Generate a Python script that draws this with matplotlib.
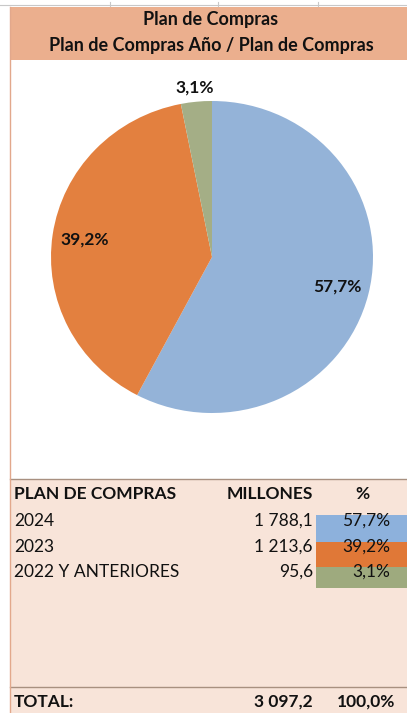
import matplotlib

matplotlib.use('Agg')
import matplotlib.pyplot as plt
import numpy as np

plt.rcParams['font.family'] = ['Lato', 'DejaVu Sans']

title_1 = 'Plan de Compras'
title_2 = 'Plan de Compras Año / Plan de Compras'
categorias = ['2024', '2023', '2022 Y ANTERIORES']
millones = [1788.1, 1213.6, 95.6]
porcentajes = [57.7, 39.2, 3.1]
total_millones = 3097.2
total_pct = 100.0
colores_pie = ['#94B3D8', '#E3803F', '#A4AE86']
colores_tabla = ['#8DB1DC', '#E07837', '#9EAA7E']
label_radio = [0.80, 0.80, 1.09]


def fmt_num(x):
    s = '{:,.1f}'.format(x)
    return s.replace(',', ' ').replace('.', ',')


def fmt_pct(x):
    return '{:.1f}%'.format(x).replace('.', ',')


W, H = 407, 713
fig = plt.figure(figsize=(W / 100, H / 100), dpi=100)
fig.patch.set_facecolor('white')

# background layer in pixel coordinates
bg = fig.add_axes([0, 0, 1, 1])
bg.set_xlim(0, W)
bg.set_ylim(H, 0)
bg.axis('off')

# top spreadsheet line
bg.plot([0, W], [5, 5], color='#C8C8C8', lw=0.8)
for x in [110, 218, 318]:
    bg.plot([x, x], [2, 6], color='#C8C8C8', lw=0.8)

# title band
bg.add_patch(plt.Rectangle((10, 7), W - 10, 53, facecolor='#EBAF8E', edgecolor='none'))
bg.text(211, 20, title_1, ha='center', va='center', fontsize=13, fontweight='bold', color='#111111')
bg.text(211, 45, title_2, ha='center', va='center', fontsize=13, fontweight='bold', color='#111111')

# table area
bg.add_patch(plt.Rectangle((10, 479), W - 10, H - 479, facecolor='#F8E4D9', edgecolor='none'))
bg.plot([10, W], [479, 479], color='#A89080', lw=1.0)
bg.plot([10, W], [687, 687], color='#A89080', lw=1.0)
bg.plot([10, 10], [7, H], color='#E2A88C', lw=1.0)

fs = 12.5
bg.text(14, 494, 'PLAN DE COMPRAS', ha='left', va='center', fontsize=fs, fontweight='bold', color='#111111')
bg.text(313, 494, 'MILLONES', ha='right', va='center', fontsize=fs, fontweight='bold', color='#111111')
bg.text(362, 494, '%', ha='center', va='center', fontsize=fs, fontweight='bold', color='#111111')

row_y = [521, 547, 572]
row_top = [515, 542, 567, 588]
for i, cat in enumerate(categorias):
    bg.add_patch(plt.Rectangle((316, row_top[i]), W - 316, row_top[i + 1] - row_top[i],
                               facecolor=colores_tabla[i], edgecolor='none'))
    bg.text(14, row_y[i], cat, ha='left', va='center', fontsize=fs, color='#111111')
    bg.text(313, row_y[i], fmt_num(millones[i]), ha='right', va='center', fontsize=fs, color='#111111')
    bg.text(390, row_y[i], fmt_pct(porcentajes[i]), ha='right', va='center', fontsize=fs, color='#111111')

bg.text(14, 702, 'TOTAL:', ha='left', va='center', fontsize=fs, fontweight='bold', color='#111111')
bg.text(313, 702, fmt_num(total_millones), ha='right', va='center', fontsize=fs, fontweight='bold', color='#111111')
bg.text(395, 702, fmt_pct(total_pct), ha='right', va='center', fontsize=fs, fontweight='bold', color='#111111')

# pie chart
cx, cy, rx, ry = 212, 257, 161, 156
pie_ax = fig.add_axes([(cx - rx) / W, 1 - (cy + ry) / H, 2 * rx / W, 2 * ry / H])
wedges, _ = pie_ax.pie(porcentajes, colors=colores_pie, startangle=90, counterclock=False,
                       wedgeprops=dict(edgecolor='none'))
pie_ax.set_aspect('auto')
pie_ax.set_xlim(-1, 1)
pie_ax.set_ylim(-1, 1)
pie_ax.axis('off')
for w, p, r in zip(wedges, porcentajes, label_radio):
    ang = np.deg2rad((w.theta1 + w.theta2) / 2)
    pie_ax.text(r * np.cos(ang), r * np.sin(ang), fmt_pct(p), ha='center', va='center',
                fontsize=12.5, fontweight='bold', color='#111111')

fig.savefig('out.png', dpi=100, facecolor='white')
